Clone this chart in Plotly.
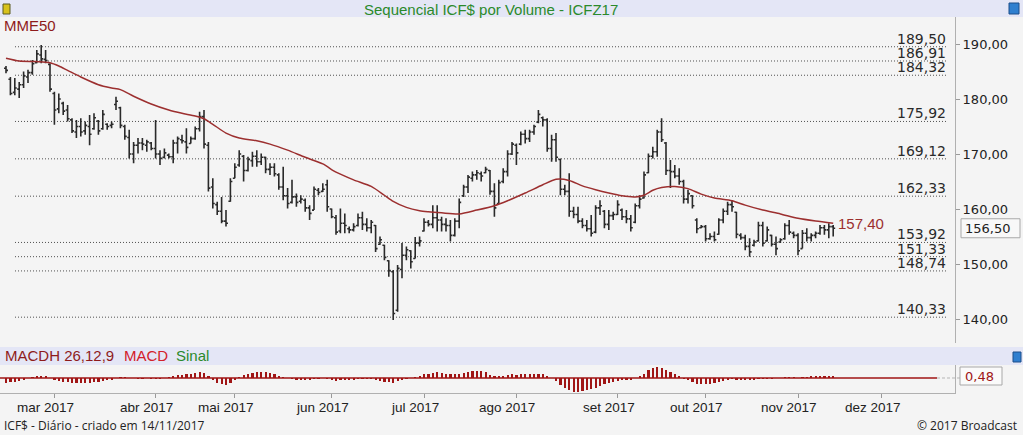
import plotly.graph_objects as go

W, H = 1023, 435

# ---------------- data ----------------
open_ = [
    185.6, 183.6, 181.2, 181.8, 182.6, 184.0, 184.8, 186.6, 188.0, 187.2,
    186.3, 181.0, 178.2, 179.2, 178.0, 176.2, 174.0, 175.0, 174.2, 175.0,
    174.6, 176.0, 174.6, 175.4, 175.2, 179.0, 178.4, 175.0, 173.0, 170.0,
    171.6, 172.0, 171.6, 172.0, 171.0, 170.0, 169.4, 169.8, 169.5, 172.0,
    172.6, 172.2, 171.9, 172.8, 174.6, 176.8, 171.6, 164.0, 160.8, 159.6,
    157.8, 161.4, 165.6, 168.0, 169.6, 167.0, 168.8, 169.6, 168.6, 169.4,
    167.2, 167.6, 166.2, 164.0, 162.4, 161.2, 162.2, 161.4, 161.6, 160.2,
    159.8, 163.4, 163.2, 164.4, 160.0, 158.4, 156.0, 157.4, 156.4, 156.2,
    157.0, 158.4, 157.2, 156.6, 157.0, 153.6, 153.4, 150.6, 148.6, 141.6,
    149.0, 151.6, 152.4, 151.0, 153.8, 156.0, 157.6, 157.2, 158.4, 158.0,
    157.2, 157.0, 155.2, 157.8, 162.4, 164.0, 165.6, 166.2, 166.4, 166.6,
    167.0, 163.2, 161.0, 165.0, 166.8, 170.0, 171.6, 171.8, 173.6, 172.8,
    174.0, 175.8, 176.6, 176.2, 171.0, 172.6, 169.0, 163.6, 163.2, 159.6,
    159.0, 157.8, 157.0, 156.4, 155.8, 160.2, 159.6, 157.2, 158.8, 159.0,
    159.8, 158.6, 158.2, 157.6, 160.6, 162.0, 166.6, 169.6, 170.4, 174.0,
    172.0, 167.0, 166.8, 166.0, 165.0, 161.8, 162.4, 158.0, 156.6, 156.8,
    154.6, 155.0, 155.4, 158.0, 159.6, 160.8, 159.4, 155.2, 154.8, 153.2,
    153.4, 154.2, 157.0, 154.2, 155.2, 153.6, 154.0, 154.6, 157.0, 155.6,
    155.2, 152.8, 155.6, 154.8, 155.2, 155.6, 156.6, 156.2, 156.8,
]
high = [
    186.0, 184.0, 183.8, 183.1, 185.0, 185.3, 187.1, 188.9, 189.8, 188.9,
    186.5, 181.3, 181.0, 179.5, 178.9, 176.5, 176.2, 176.5, 175.9, 177.1,
    177.4, 176.2, 178.0, 175.6, 175.9, 180.4, 178.6, 175.3, 174.4, 172.2,
    172.9, 172.9, 172.6, 172.2, 176.2, 170.7, 171.0, 170.1, 172.6, 173.2,
    173.5, 174.7, 173.2, 175.0, 177.7, 178.0, 172.2, 165.6, 161.3, 162.2,
    159.8, 165.6, 168.3, 170.7, 169.8, 169.5, 170.4, 170.7, 170.1, 169.5,
    168.3, 168.3, 166.5, 167.7, 163.8, 165.3, 162.8, 162.5, 161.9, 160.7,
    164.1, 163.8, 164.7, 165.3, 160.1, 158.9, 160.1, 159.2, 156.8, 157.4,
    159.2, 159.5, 158.3, 158.0, 157.1, 155.0, 153.5, 150.7, 148.9, 149.8,
    153.8, 153.2, 152.5, 154.9, 155.0, 158.3, 158.0, 160.7, 160.7, 158.6,
    158.3, 158.0, 158.3, 161.9, 164.4, 166.2, 166.8, 167.1, 166.8, 167.7,
    167.1, 164.7, 165.3, 167.4, 170.7, 172.2, 171.9, 174.1, 174.4, 174.4,
    175.3, 178.0, 176.8, 176.5, 173.5, 173.8, 169.2, 164.4, 166.5, 160.4,
    160.4, 158.3, 158.0, 158.9, 160.7, 161.6, 159.8, 159.8, 159.5, 161.6,
    160.1, 159.8, 158.9, 161.0, 162.5, 166.8, 170.1, 171.3, 174.4, 176.5,
    172.2, 168.9, 168.0, 167.4, 165.3, 163.5, 162.5, 158.3, 157.1, 157.1,
    155.6, 155.9, 158.3, 160.1, 161.3, 161.6, 159.5, 155.6, 155.3, 154.7,
    154.4, 157.7, 157.7, 156.8, 155.3, 155.0, 154.7, 157.4, 158.0, 155.9,
    155.6, 156.2, 156.5, 155.6, 155.9, 157.1, 157.1, 157.4, 157.1,
]
low = [
    184.7, 180.7, 180.7, 180.2, 182.0, 182.9, 184.4, 186.5, 186.5, 186.5,
    181.3, 175.3, 177.4, 177.1, 175.9, 173.8, 172.9, 173.2, 173.5, 171.6,
    174.4, 173.5, 174.4, 174.4, 174.7, 178.0, 174.7, 172.6, 169.2, 168.3,
    170.1, 170.7, 170.4, 170.7, 169.2, 168.0, 169.2, 169.2, 168.3, 170.1,
    171.9, 170.1, 171.9, 172.6, 174.1, 171.0, 163.2, 160.1, 158.9, 157.4,
    156.8, 161.3, 165.6, 167.7, 165.0, 166.8, 167.7, 167.7, 168.0, 166.5,
    166.2, 165.9, 163.5, 161.6, 160.1, 161.0, 160.4, 161.0, 159.5, 158.0,
    159.8, 162.5, 163.1, 159.5, 158.3, 155.3, 155.6, 155.6, 155.6, 155.9,
    156.8, 156.2, 155.9, 155.6, 152.2, 153.5, 150.7, 147.7, 139.8, 141.3,
    147.4, 150.7, 149.2, 151.0, 153.2, 155.9, 156.8, 156.5, 155.9, 155.9,
    155.9, 154.1, 155.0, 156.5, 162.2, 162.9, 165.0, 165.3, 165.0, 166.5,
    162.6, 158.6, 161.0, 164.7, 165.9, 169.8, 168.0, 171.6, 171.9, 172.2,
    173.5, 175.6, 175.0, 170.4, 168.6, 168.6, 162.5, 162.5, 158.6, 158.3,
    157.4, 156.5, 155.9, 155.0, 155.6, 158.9, 156.5, 156.2, 158.0, 158.9,
    158.0, 157.4, 155.9, 157.4, 160.1, 161.9, 166.5, 169.2, 169.5, 172.2,
    166.2, 163.8, 165.6, 164.4, 161.0, 161.0, 160.1, 155.6, 156.5, 154.1,
    154.4, 154.1, 155.3, 157.4, 158.9, 159.5, 154.7, 154.4, 152.5, 151.3,
    153.2, 154.1, 153.2, 154.1, 153.2, 151.6, 153.8, 154.4, 155.3, 154.7,
    151.6, 152.8, 154.1, 154.1, 154.7, 155.3, 155.3, 154.7, 155.0,
]
close = [
    185.2, 181.0, 182.0, 182.6, 184.2, 184.8, 186.4, 188.2, 187.3, 187.0,
    181.8, 178.0, 180.0, 177.8, 176.4, 174.2, 175.0, 174.0, 175.2, 173.6,
    176.6, 174.2, 177.2, 175.0, 175.4, 179.6, 175.2, 173.2, 170.0, 171.6,
    172.0, 171.8, 172.2, 171.0, 170.0, 169.2, 170.2, 169.5, 172.0, 172.8,
    172.4, 171.2, 172.8, 174.6, 176.8, 171.8, 163.8, 161.0, 159.6, 157.8,
    157.4, 165.0, 167.6, 170.0, 167.0, 169.0, 169.6, 168.6, 169.4, 167.2,
    167.6, 166.4, 164.0, 162.4, 161.0, 162.2, 161.2, 161.8, 160.2, 159.2,
    163.6, 163.0, 163.6, 160.4, 158.6, 155.8, 157.4, 157.0, 156.2, 156.8,
    158.4, 157.2, 156.6, 157.6, 152.8, 154.4, 151.2, 148.8, 141.0, 149.2,
    151.6, 152.6, 150.4, 153.8, 154.2, 157.6, 157.2, 158.4, 158.0, 157.2,
    157.0, 155.2, 157.8, 161.2, 164.0, 165.8, 166.2, 166.6, 166.0, 167.2,
    163.2, 160.2, 164.8, 166.8, 170.0, 171.8, 170.2, 173.6, 172.8, 174.0,
    175.0, 177.2, 176.2, 171.0, 172.6, 169.4, 163.6, 163.2, 159.6, 159.0,
    157.8, 157.0, 156.4, 155.6, 160.2, 160.6, 157.2, 158.8, 159.0, 160.8,
    158.6, 158.2, 156.6, 160.6, 161.8, 166.2, 169.6, 170.4, 174.0, 172.6,
    167.0, 166.8, 166.0, 165.0, 161.8, 162.8, 160.6, 156.4, 156.8, 154.6,
    155.0, 154.4, 158.0, 159.6, 160.8, 160.4, 155.4, 154.8, 153.2, 152.2,
    154.0, 157.0, 153.8, 156.2, 153.6, 152.8, 154.4, 157.0, 155.8, 155.2,
    152.4, 155.6, 154.8, 155.2, 155.6, 156.6, 156.2, 156.8, 156.5,
]

# MME50 (exponential moving average, 50) read at selected trading-day indices
ema_idx = [0, 3, 7, 10, 12, 14, 17, 21, 24, 26, 29, 33, 37, 40, 43, 45, 47, 50,
           53, 57, 60, 64, 68, 72, 75, 79, 83, 86, 88, 91, 94, 96, 99, 103, 107,
           111, 114, 118, 122, 125, 128, 131, 134, 137, 140, 143, 145, 147, 149,
           152, 155, 158, 161, 165, 168, 172, 176, 180, 184, 188]
ema_val = [187.4, 186.9, 186.8, 186.6, 186.0, 185.2, 184.0, 182.6, 182.0, 181.7,
           180.5, 179.1, 178.0, 177.4, 176.9, 176.4, 175.4, 173.8, 172.9, 172.4,
           171.8, 170.7, 169.4, 168.2, 166.7, 165.3, 164.1, 162.5, 161.4, 160.3,
           159.7, 159.5, 159.3, 159.1, 159.8, 160.6, 161.5, 162.9, 164.4, 165.4,
           165.2, 164.2, 163.5, 162.9, 162.4, 162.2, 162.5, 163.4, 163.9, 164.1,
           163.7, 162.7, 162.0, 161.5, 160.7, 159.8, 159.1, 158.3, 157.8, 157.4]

# MACD histogram (26,12,9)
macd_hist = [
    -1.2, -1.1, -0.9, -0.7, -0.4, 0.1, 0.3, 0.5, 0.5, 0.4,
    0.0, -0.5, -0.7, -0.9, -1.1, -1.2, -1.3, -1.3, -1.3, -1.2,
    -1.0, -0.9, -0.7, -0.6, -0.4, -0.1, 0.2, 0.2, 0.1, -0.1,
    -0.2, -0.2, -0.1, -0.2, -0.3, -0.2, 0.1, 0.3, 0.5, 0.7,
    0.8, 1.0, 1.1, 1.3, 1.5, 1.3, 0.4, -0.6, -1.2, -1.6,
    -1.8, -1.3, -0.6, 0.2, 0.7, 1.1, 1.3, 1.5, 1.5, 1.4,
    1.2, 1.0, 0.6, 0.3, -0.1, -0.3, -0.4, -0.5, -0.6, -0.6,
    -0.3, -0.2, -0.1, -0.3, -0.5, -0.7, -0.6, -0.6, -0.6, -0.5,
    -0.3, -0.3, -0.3, -0.3, -0.6, -0.7, -0.9, -1.1, -1.2, -0.8,
    -0.4, -0.2, 0.0, 0.3, 0.6, 0.9, 1.1, 1.3, 1.4, 1.3,
    1.0, 0.9, 0.9, 1.0, 1.3, 1.5, 1.7, 1.8, 1.7, 1.5,
    0.8, 0.5, 0.5, 0.6, 0.8, 0.9, 0.8, 0.9, 0.9, 0.9,
    1.0, 1.0, 0.9, 0.4, 0.1, -0.8, -1.8, -2.6, -3.1, -3.4,
    -3.5, -3.3, -3.0, -2.8, -2.4, -1.9, -1.6, -1.3, -1.1, -0.8,
    -0.6, -0.5, -0.4, -0.1, 0.4, 1.1, 1.9, 2.4, 2.7, 2.6,
    2.0, 1.4, 0.9, 0.4, -0.2, -0.6, -1.1, -1.4, -1.6, -1.6,
    -1.5, -1.3, -1.0, -0.7, -0.4, -0.3, -0.4, -0.5, -0.5, -0.5,
    -0.4, -0.2, -0.3, -0.2, -0.2, -0.1, 0.0, 0.2, 0.3, 0.2,
    0.1, 0.3, 0.3, 0.4, 0.4, 0.5, 0.5, 0.5, 0.48,
]

# support / resistance levels
levels = [189.50, 186.91, 184.32, 175.92, 169.12, 162.33, 153.92, 151.33, 148.74, 140.33]

# price axis ticks
price_ticks = [140, 150, 160, 170, 180, 190]

# month labels at the first trading day of each month (trading-day index)
month_labels = ["mar 2017", "abr 2017", "mai 2017", "jun 2017", "jul 2017",
                "ago 2017", "set 2017", "out 2017", "nov 2017", "dez 2017"]
month_idx = [11, 34, 52, 74, 95, 116, 139, 159, 180, 199]

title_text = "Sequencial ICF$ por Volume - ICFZ17"
footer_left = "ICF$ - Diário - criado em 14/11/2017"
footer_right = "© 2017 Broadcast"

# ---------------- helpers ----------------
def py(p):
    return (H - p) / H


def px(p):
    return p / W


def br(v):
    return f"{v:.2f}".replace(".", ",")


idx = list(range(len(close)))

SANS = "Liberation Sans, Arial, sans-serif"
VERD = "DejaVu Sans, Verdana, sans-serif"
BG = "#f4f4f4"
LAV = "#e4e6f6"
DARKRED = "#8e1b1b"
EMA_COL = "#9c2f2f"
HIST_COL = "#a01515"

PLOT_RIGHT = 955
x_per_bar = 4.4
x_first = 6
x_range = [(0 - x_first) / x_per_bar, (PLOT_RIGHT - x_first) / x_per_bar]

top_px, bot_px = 17, 343
per = 5.5
y_range = [190 - (bot_px - 44) / per, 190 + (44 - top_px) / per]

fig = go.Figure()

fig.add_trace(go.Ohlc(
    x=idx, open=open_, high=high, low=low, close=close,
    increasing=dict(line=dict(color="#2a2a2a", width=1.6)),
    decreasing=dict(line=dict(color="#2a2a2a", width=1.6)),
    tickwidth=0.45, xaxis="x", yaxis="y", showlegend=False, hoverinfo="skip",
))

fig.add_trace(go.Scatter(
    x=ema_idx, y=ema_val, mode="lines",
    line=dict(color=EMA_COL, width=1.5, shape="spline", smoothing=0.7),
    xaxis="x", yaxis="y", showlegend=False, hoverinfo="skip",
))

fig.add_trace(go.Bar(
    x=idx, y=macd_hist, width=0.5,
    marker=dict(color=HIST_COL, line=dict(width=0)),
    xaxis="x2", yaxis="y2", showlegend=False, hoverinfo="skip",
))

shapes = []
# title band
shapes.append(dict(type="rect", xref="paper", yref="paper", x0=0, x1=1,
                   y0=py(17), y1=1, fillcolor=LAV, line=dict(width=0), layer="below"))
# MACD header band
shapes.append(dict(type="rect", xref="paper", yref="paper", x0=0, x1=1,
                   y0=py(365), y1=py(347), fillcolor=LAV, line=dict(width=0), layer="below"))
# level lines
for lv in levels:
    shapes.append(dict(type="line", xref="x domain", yref="y",
                       x0=15 / PLOT_RIGHT, x1=948 / PLOT_RIGHT, y0=lv, y1=lv,
                       line=dict(color="#505050", width=1, dash="1px,2px"), layer="below"))
# MACD zero line
shapes.append(dict(type="line", xref="x2 domain", yref="y2", x0=0, x1=937 / PLOT_RIGHT,
                   y0=0, y1=0, line=dict(color=HIST_COL, width=1.5)))
shapes.append(dict(type="line", xref="paper", yref="y2", x0=px(937), x1=px(960),
                   y0=0, y1=0, line=dict(color="#b5b5b5", width=1, dash="3px,2px")))
# last-price box on the price axis
shapes.append(dict(type="rect", xref="paper", yref="y", x0=px(961), x1=px(1020),
                   y0=close[-1] - 9.5 / per, y1=close[-1] + 9.5 / per,
                   fillcolor="#f8f8f8", line=dict(color="#a8a8a8", width=1)))
# last MACD value box
shapes.append(dict(type="rect", xref="paper", yref="paper", x0=px(960), x1=px(1002),
                   y0=py(385), y1=py(367), fillcolor="#fafafa",
                   line=dict(color="#a8a8a8", width=1)))
# small icons
shapes.append(dict(type="rect", xref="paper", yref="paper", x0=px(3), x1=px(10),
                   y0=py(14), y1=py(4), fillcolor="#d8c21c", line=dict(color="#5a5a20", width=1)))
shapes.append(dict(type="rect", xref="paper", yref="paper", x0=px(1009), x1=px(1019),
                   y0=py(14), y1=py(3), fillcolor="#2f7fcf", line=dict(color="#1c4f8a", width=1)))
shapes.append(dict(type="rect", xref="paper", yref="paper", x0=px(1013), x1=px(1021),
                   y0=py(362), y1=py(352), fillcolor="#2f7fcf", line=dict(color="#1c4f8a", width=1)))

ann = []
ann.append(dict(text=title_text, x=px(491), y=py(9), xref="paper", yref="paper",
                xanchor="center", yanchor="middle", showarrow=False,
                font=dict(family=SANS, size=15, color="#2b8a2b")))
ann.append(dict(text="MME50", x=px(2), y=py(26), xref="paper", yref="paper",
                xanchor="left", yanchor="middle", showarrow=False,
                font=dict(family=SANS, size=15, color=DARKRED)))
for lv in levels:
    ann.append(dict(text=br(lv), x=948 / PLOT_RIGHT, y=lv, xref="x domain", yref="y",
                    xanchor="right", yanchor="bottom", showarrow=False, yshift=-2,
                    font=dict(family=VERD, size=14, color="#2a2a2a")))
ann.append(dict(text=br(ema_val[-1]), x=ema_idx[-1], y=ema_val[-1], xref="x", yref="y",
                xanchor="left", yanchor="middle", xshift=3, showarrow=False,
                font=dict(family=SANS, size=15, color=EMA_COL)))
ann.append(dict(text=br(close[-1]), x=px(963), y=close[-1], xref="paper", yref="y",
                xanchor="left", yanchor="middle", showarrow=False,
                font=dict(family=VERD, size=13, color="#222222")))
# MACD header texts
for txt, x0, col in [("MACDH 26,12,9", 3, DARKRED), ("MACD", 122, "#d3202a"), ("Sinal", 174, "#2b8a2b")]:
    ann.append(dict(text=txt, x=px(x0), y=py(356), xref="paper", yref="paper",
                    xanchor="left", yanchor="middle", showarrow=False,
                    font=dict(family=SANS, size=15, color=col)))
ann.append(dict(text=br(macd_hist[-1]), x=px(963), y=py(376), xref="paper", yref="paper",
                xanchor="left", yanchor="middle", showarrow=False,
                font=dict(family=VERD, size=13, color=HIST_COL)))
# month labels
for lab, mi in zip(month_labels, month_idx):
    ann.append(dict(text=lab, x=mi, y=py(407), xref="x2", yref="paper",
                    xanchor="center", yanchor="middle", xshift=-9, showarrow=False,
                    font=dict(family=SANS, size=13.5, color="#222222")))
ann.append(dict(text=footer_left, x=px(2), y=py(425), xref="paper", yref="paper",
                xanchor="left", yanchor="middle", showarrow=False,
                font=dict(family="Open Sans, sans-serif", size=12, color="#222222")))
ann.append(dict(text=footer_right, x=px(1019), y=py(425), xref="paper", yref="paper",
                xanchor="right", yanchor="middle", showarrow=False,
                font=dict(family="Open Sans, sans-serif", size=12, color="#222222")))

fig.update_layout(
    width=W, height=H,
    margin=dict(l=0, r=0, t=0, b=0),
    paper_bgcolor=BG, plot_bgcolor=BG,
    showlegend=False, bargap=0,
    xaxis=dict(domain=[0, px(PLOT_RIGHT)], range=x_range, anchor="y",
               showticklabels=False, showgrid=False, zeroline=False, ticks="",
               rangeslider=dict(visible=False), fixedrange=True),
    xaxis2=dict(domain=[0, px(PLOT_RIGHT)], matches="x", anchor="y2",
                showticklabels=False, showgrid=False, zeroline=False,
                ticks="outside", ticklen=4, tickcolor="#9a9a9a",
                tickmode="array", tickvals=month_idx,
                showline=True, linecolor="#b0b0b0", linewidth=1,
                rangeslider=dict(visible=False), fixedrange=True),
    yaxis=dict(domain=[py(bot_px), py(top_px)], range=y_range, anchor="x", side="right",
               tickmode="array", tickvals=price_ticks, ticktext=[br(t) for t in price_ticks],
               ticks="outside", ticklen=4, tickcolor="#9a9a9a",
               tickfont=dict(family=VERD, size=13, color="#222222"),
               showline=True, linecolor="#b0b0b0", linewidth=1,
               showgrid=False, zeroline=False, fixedrange=True),
    yaxis2=dict(domain=[py(393), py(365)], range=[-3.75, 3.25], anchor="x2", side="right",
                showticklabels=False, ticks="", showline=True, linecolor="#b0b0b0",
                linewidth=1, showgrid=False, zeroline=False, fixedrange=True),
    shapes=shapes,
    annotations=ann,
)

fig.write_html(
    "out.html",
    config={"displayModeBar": False, "staticPlot": True},
    post_script="document.body.style.margin='0';document.body.style.padding='0';"
                "document.body.style.overflow='hidden';",
)
